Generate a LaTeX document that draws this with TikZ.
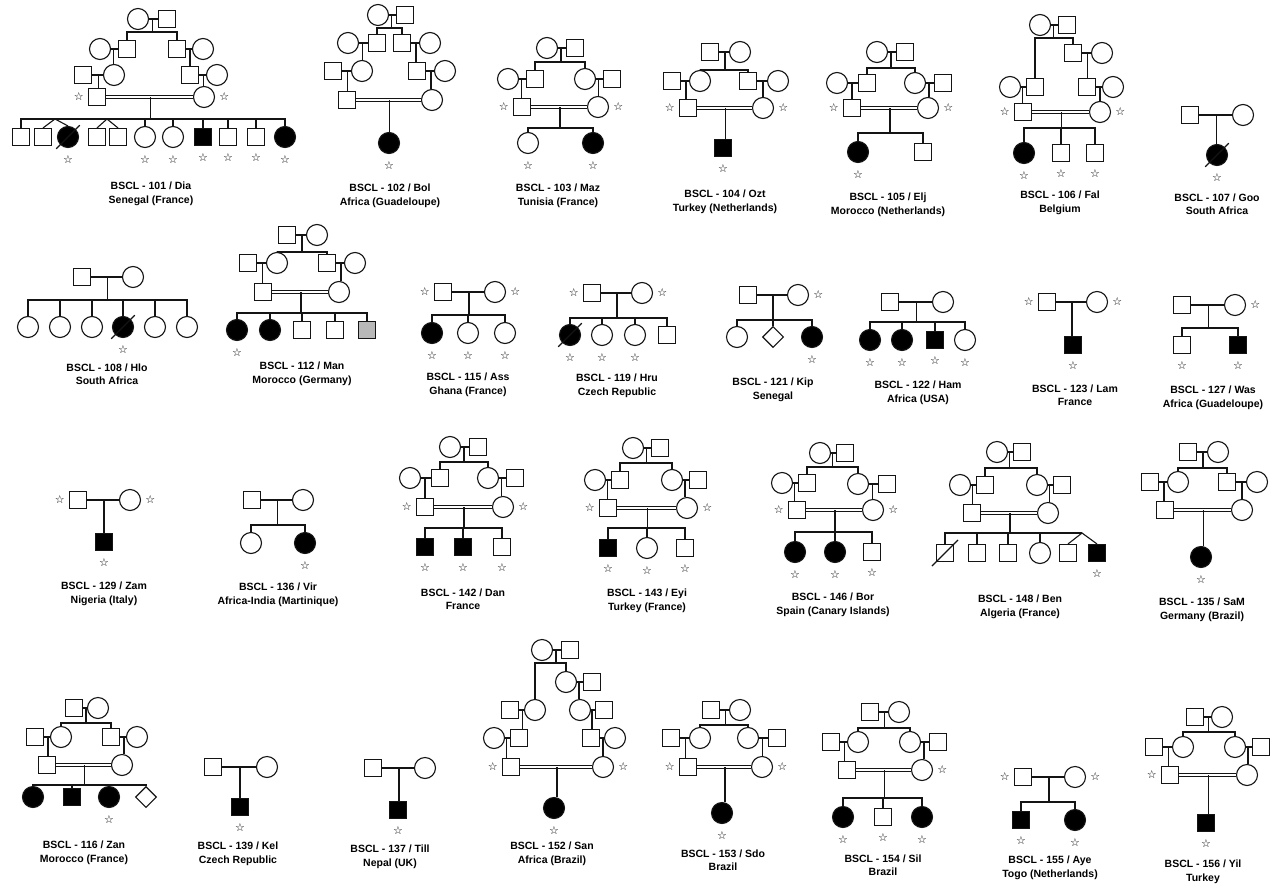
\documentclass[tikz,border=0pt]{standalone}
\usepackage{fontspec}
\setmainfont{Liberation Sans}
\newfontfamily\starfont{DejaVu Sans}
\usetikzlibrary{calc,shapes.geometric}
\definecolor{pedline}{RGB}{20,20,20}
\newcommand\stsym{{\starfont\fontsize{11}{11}\selectfont ☆}}
\tikzset{
  ind/.style={draw=pedline, line width=1.1pt, inner sep=0pt, fill=white},
  male/.style={ind, rectangle, minimum size=17pt},
  fem/.style={ind, circle, minimum size=21pt},
  unk/.style={ind, diamond, minimum size=21pt},
  aff/.style={fill=black},
  gry/.style={fill=black!28},
  rel/.style={draw=pedline, line width=1.1pt},
  cons/.style={draw=pedline, line width=0.9pt, double, double distance=2.2pt},
  starlab/.style={inner sep=0pt},
  stb/.style={label={[starlab,label distance=7pt]below:\stsym}},
  stl/.style={label={[starlab,label distance=4pt]left:\stsym}},
  str/.style={label={[starlab,label distance=4pt]right:\stsym}},
  pedlab/.style={align=center, font=\fontsize{10.5}{13.5}\selectfont\bfseries}
}
% descent from a couple to a sibship line at height #3
\newcommand\kids[4]{%
  \coordinate (mid) at ($(#1)!.5!(#2)$);
  \foreach \k in {#4}{\draw[rel] (mid) -- (mid |- 0,#3) -| (\k.north);}%
}
\newcommand\onekid[3]{%
  \coordinate (mid) at ($(#1)!.5!(#2)$);
  \draw[rel] (mid) -- (mid |- #3.north);%
}
\newcommand\dead[1]{\draw[rel] ($(#1.south west)+(-4,4)$) -- ($(#1.north east)+(4,-4)$);}

\begin{document}
\begin{tikzpicture}[x=1pt, y=-1pt]
\useasboundingbox[fill=white] (0,0) rectangle (1276,891);

% ---- 101 Dia
\node[fem] (diaT1) at (138,19) {};
\node[male] (diaT2) at (167,19) {};
\node[fem] (diaL1) at (100,49) {};
\node[male] (diaL2) at (127,49) {};
\node[male] (diaR1) at (177,49) {};
\node[fem] (diaR2) at (203,49) {};
\node[male] (diaL3) at (83,75) {};
\node[fem] (diaL4) at (114,75) {};
\node[male] (diaR3) at (190,75) {};
\node[fem] (diaR4) at (217,75) {};
\node[male,stl] (diaF) at (97,97) {};
\node[fem,str] (diaM) at (204,97) {};
\node[male] (diaC1) at (21,137) {};
\node[male] (diaC2) at (43,137) {};
\node[fem,aff,stb] (diaC3) at (68,137) {};
\node[male] (diaC4) at (97,137) {};
\node[male] (diaC5) at (118,137) {};
\node[fem,stb] (diaC6) at (145,137) {};
\node[fem,stb] (diaC7) at (173,137) {};
\node[male,aff,stb] (diaC8) at (203,137) {};
\node[male,stb] (diaC9) at (228,137) {};
\node[male,stb] (diaC10) at (256,137) {};
\node[fem,aff,stb] (diaC11) at (285,137) {};
\draw[rel] (diaT1) -- (diaT2);
\kids{diaT1}{diaT2}{32}{diaL2,diaR1}
\draw[rel] (diaL1) -- (diaL2);
\draw[rel] (diaR1) -- (diaR2);
\onekid{diaL1}{diaL2}{diaL4}
\onekid{diaR1}{diaR2}{diaR3}
\draw[rel] (diaL3) -- (diaL4);
\draw[rel] (diaR3) -- (diaR4);
\onekid{diaL3}{diaL4}{diaF}
\onekid{diaR3}{diaR4}{diaM}
\draw[cons] (diaF) -- (diaM);
\kids{diaF}{diaM}{119}{diaC1,diaC6,diaC7,diaC8,diaC9,diaC10,diaC11}
\coordinate (diaTw1) at (55,119);
\coordinate (diaTw2) at (107,119);
\draw[rel] (diaC2.north) -- (diaTw1) -- (diaC3.north);
\draw[rel] (diaC4.north) -- (diaTw2) -- (diaC5.north);
\dead{diaC3}
\node[pedlab] (diaLab) at (151,194) {BSCL - 101 / Dia\\Senegal (France)};

% ---- 102 Bol
\node[fem] (bolT1) at (378,15) {};
\node[male] (bolT2) at (405,15) {};
\node[fem] (bolL1) at (348,43) {};
\node[male] (bolL2) at (377,43) {};
\node[male] (bolR1) at (402,43) {};
\node[fem] (bolR2) at (430,43) {};
\node[male] (bolL3) at (333,71) {};
\node[fem] (bolL4) at (362,71) {};
\node[male] (bolR3) at (417,71) {};
\node[fem] (bolR4) at (445,71) {};
\node[male] (bolF) at (347,100) {};
\node[fem] (bolM) at (432,100) {};
\node[fem,aff,stb] (bolC1) at (389,143) {};
\draw[rel] (bolT1) -- (bolT2);
\kids{bolT1}{bolT2}{28}{bolL2,bolR1}
\draw[rel] (bolL1) -- (bolL2);
\draw[rel] (bolR1) -- (bolR2);
\onekid{bolL1}{bolL2}{bolL4}
\onekid{bolR1}{bolR2}{bolR3}
\draw[rel] (bolL3) -- (bolL4);
\draw[rel] (bolR3) -- (bolR4);
\onekid{bolL3}{bolL4}{bolF}
\onekid{bolR3}{bolR4}{bolM}
\draw[cons] (bolF) -- (bolM);
\onekid{bolF}{bolM}{bolC1}
\node[pedlab] (bolLab) at (390,196) {BSCL - 102 / Bol\\Africa (Guadeloupe)};

% ---- 103 Maz
\node[fem] (mazT1) at (547,48) {};
\node[male] (mazT2) at (575,48) {};
\node[fem] (mazL1) at (508,79) {};
\node[male] (mazL2) at (535,79) {};
\node[fem] (mazR1) at (585,79) {};
\node[male] (mazR2) at (612,79) {};
\node[male,stl] (mazF) at (522,107) {};
\node[fem,str] (mazM) at (598,107) {};
\node[fem,stb] (mazC1) at (528,143) {};
\node[fem,aff,stb] (mazC2) at (593,143) {};
\draw[rel] (mazT1) -- (mazT2);
\kids{mazT1}{mazT2}{62}{mazL2,mazR1}
\draw[rel] (mazL1) -- (mazL2);
\draw[rel] (mazR1) -- (mazR2);
\onekid{mazL1}{mazL2}{mazF}
\onekid{mazR1}{mazR2}{mazM}
\draw[cons] (mazF) -- (mazM);
\kids{mazF}{mazM}{128}{mazC1,mazC2}
\node[pedlab] (mazLab) at (558,196) {BSCL - 103 / Maz\\Tunisia (France)};

% ---- 104 Ozt
\node[male] (oztT1) at (710,52) {};
\node[fem] (oztT2) at (740,52) {};
\node[male] (oztL1) at (672,81) {};
\node[fem] (oztL2) at (700,81) {};
\node[male] (oztR1) at (748,81) {};
\node[fem] (oztR2) at (778,81) {};
\node[male,stl] (oztF) at (688,108) {};
\node[fem,str] (oztM) at (763,108) {};
\node[male,aff,stb] (oztC1) at (723,148) {};
\draw[rel] (oztT1) -- (oztT2);
\kids{oztT1}{oztT2}{70}{oztL2,oztR1}
\draw[rel] (oztL1) -- (oztL2);
\draw[rel] (oztR1) -- (oztR2);
\onekid{oztL1}{oztL2}{oztF}
\onekid{oztR1}{oztR2}{oztM}
\draw[cons] (oztF) -- (oztM);
\onekid{oztF}{oztM}{oztC1}
\node[pedlab] (oztLab) at (725,202) {BSCL - 104 / Ozt\\Turkey (Netherlands)};

% ---- 105 Elj
\node[fem] (eljT1) at (877,52) {};
\node[male] (eljT2) at (905,52) {};
\node[fem] (eljL1) at (837,83) {};
\node[male] (eljL2) at (867,83) {};
\node[fem] (eljR1) at (915,83) {};
\node[male] (eljR2) at (943,83) {};
\node[male,stl] (eljF) at (852,108) {};
\node[fem,str] (eljM) at (928,108) {};
\node[fem,aff,stb] (eljC1) at (858,152) {};
\node[male] (eljC2) at (923,152) {};
\draw[rel] (eljT1) -- (eljT2);
\kids{eljT1}{eljT2}{68}{eljL2,eljR1}
\draw[rel] (eljL1) -- (eljL2);
\draw[rel] (eljR1) -- (eljR2);
\onekid{eljL1}{eljL2}{eljF}
\onekid{eljR1}{eljR2}{eljM}
\draw[cons] (eljF) -- (eljM);
\kids{eljF}{eljM}{133}{eljC1,eljC2}
\node[pedlab] (eljLab) at (888,205) {BSCL - 105 / Elj\\Morocco (Netherlands)};

% ---- 106 Fal
\node[fem] (falT1) at (1040,25) {};
\node[male] (falT2) at (1067,25) {};
\node[male] (falR1) at (1073,53) {};
\node[fem] (falR2) at (1102,53) {};
\node[fem] (falL1) at (1010,87) {};
\node[male] (falL2) at (1035,87) {};
\node[male] (falR3) at (1087,87) {};
\node[fem] (falR4) at (1113,87) {};
\node[male,stl] (falF) at (1023,112) {};
\node[fem,str] (falM) at (1100,112) {};
\node[fem,aff,stb] (falC1) at (1024,153) {};
\node[male,stb] (falC2) at (1061,153) {};
\node[male,stb] (falC3) at (1095,153) {};
\draw[rel] (falT1) -- (falT2);
\kids{falT1}{falT2}{38}{falL2,falR1}
\draw[rel] (falR1) -- (falR2);
\onekid{falR1}{falR2}{falR3}
\draw[rel] (falL1) -- (falL2);
\draw[rel] (falR3) -- (falR4);
\onekid{falL1}{falL2}{falF}
\onekid{falR3}{falR4}{falM}
\draw[cons] (falF) -- (falM);
\kids{falF}{falM}{128}{falC1,falC2,falC3}
\node[pedlab] (falLab) at (1060,203) {BSCL - 106 / Fal\\Belgium};

% ---- 107 Goo
\node[male] (gooF) at (1190,115) {};
\node[fem] (gooM) at (1243,115) {};
\node[fem,aff,stb] (gooC1) at (1217,155) {};
\draw[rel] (gooF) -- (gooM);
\onekid{gooF}{gooM}{gooC1}
\dead{gooC1}
\node[pedlab] (gooLab) at (1217,204) {BSCL - 107 / Goo\\South Africa};

% ---- 108 Hlo
\node[male] (hloF) at (82,277) {};
\node[fem] (hloM) at (133,277) {};
\node[fem] (hloC1) at (28,327) {};
\node[fem] (hloC2) at (60,327) {};
\node[fem] (hloC3) at (92,327) {};
\node[fem,aff,stb] (hloC4) at (123,327) {};
\node[fem] (hloC5) at (155,327) {};
\node[fem] (hloC6) at (187,327) {};
\draw[rel] (hloF) -- (hloM);
\kids{hloF}{hloM}{300}{hloC1,hloC2,hloC3,hloC4,hloC5,hloC6}
\dead{hloC4}
\node[pedlab] (hloLab) at (107,374) {BSCL - 108 / Hlo\\South Africa};

% ---- 112 Man
\node[male] (manT1) at (287,235) {};
\node[fem] (manT2) at (317,235) {};
\node[male] (manL1) at (248,263) {};
\node[fem] (manL2) at (277,263) {};
\node[male] (manR1) at (327,263) {};
\node[fem] (manR2) at (355,263) {};
\node[male] (manF) at (263,292) {};
\node[fem] (manM) at (339,292) {};
\node[fem,aff,stb] (manC1) at (237,330) {};
\node[fem,aff] (manC2) at (270,330) {};
\node[male] (manC3) at (302,330) {};
\node[male] (manC4) at (335,330) {};
\node[male,gry] (manC5) at (367,330) {};
\draw[rel] (manT1) -- (manT2);
\kids{manT1}{manT2}{252}{manL2,manR1}
\draw[rel] (manL1) -- (manL2);
\draw[rel] (manR1) -- (manR2);
\onekid{manL1}{manL2}{manF}
\onekid{manR1}{manR2}{manM}
\draw[cons] (manF) -- (manM);
\kids{manF}{manM}{313}{manC1,manC2,manC3,manC4,manC5}
\node[pedlab] (manLab) at (302,374) {BSCL - 112 / Man\\Morocco (Germany)};

% ---- 115 Ass
\node[male,stl] (assF) at (443,292) {};
\node[fem,str] (assM) at (495,292) {};
\node[fem,aff,stb] (assC1) at (432,333) {};
\node[fem,stb] (assC2) at (468,333) {};
\node[fem,stb] (assC3) at (505,333) {};
\draw[rel] (assF) -- (assM);
\kids{assF}{assM}{315}{assC1,assC2,assC3}
\node[pedlab] (assLab) at (468,385) {BSCL - 115 / Ass\\Ghana (France)};

% ---- 119 Hru
\node[male,stl] (hruF) at (592,293) {};
\node[fem,str] (hruM) at (642,293) {};
\node[fem,aff,stb] (hruC1) at (570,335) {};
\node[fem,stb] (hruC2) at (602,335) {};
\node[fem,stb] (hruC3) at (635,335) {};
\node[male] (hruC4) at (667,335) {};
\draw[rel] (hruF) -- (hruM);
\kids{hruF}{hruM}{318}{hruC1,hruC2,hruC3,hruC4}
\dead{hruC1}
\node[pedlab] (hruLab) at (617,386) {BSCL - 119 / Hru\\Czech Republic};

% ---- 121 Kip
\node[male] (kipF) at (748,295) {};
\node[fem,str] (kipM) at (798,295) {};
\node[fem] (kipC1) at (737,337) {};
\node[unk] (kipC2) at (773,337) {};
\node[fem,aff,stb] (kipC3) at (812,337) {};
\draw[rel] (kipF) -- (kipM);
\kids{kipF}{kipM}{320}{kipC1,kipC2,kipC3}
\node[pedlab] (kipLab) at (773,390) {BSCL - 121 / Kip\\Senegal};

% ---- 122 Ham
\node[male] (hamF) at (890,302) {};
\node[fem] (hamM) at (943,302) {};
\node[fem,aff,stb] (hamC1) at (870,340) {};
\node[fem,aff,stb] (hamC2) at (902,340) {};
\node[male,aff,stb] (hamC3) at (935,340) {};
\node[fem,stb] (hamC4) at (965,340) {};
\draw[rel] (hamF) -- (hamM);
\kids{hamF}{hamM}{322}{hamC1,hamC2,hamC3,hamC4}
\node[pedlab] (hamLab) at (918,393) {BSCL - 122 / Ham\\Africa (USA)};

% ---- 123 Lam
\node[male,stl] (lamF) at (1047,302) {};
\node[fem,str] (lamM) at (1097,302) {};
\node[male,aff,stb] (lamC1) at (1073,345) {};
\draw[rel] (lamF) -- (lamM);
\onekid{lamF}{lamM}{lamC1}
\node[pedlab] (lamLab) at (1075,395) {BSCL - 123 / Lam\\France};

% ---- 127 Was
\node[male] (wasF) at (1182,305) {};
\node[fem,str] (wasM) at (1235,305) {};
\node[male,stb] (wasC1) at (1182,345) {};
\node[male,aff,stb] (wasC2) at (1238,345) {};
\draw[rel] (wasF) -- (wasM);
\kids{wasF}{wasM}{328}{wasC1,wasC2}
\node[pedlab] (wasLab) at (1213,398) {BSCL - 127 / Was\\Africa (Guadeloupe)};

% ---- 129 Zam
\node[male,stl] (zamF) at (78,500) {};
\node[fem,str] (zamM) at (130,500) {};
\node[male,aff,stb] (zamC1) at (104,542) {};
\draw[rel] (zamF) -- (zamM);
\onekid{zamF}{zamM}{zamC1}
\node[pedlab] (zamLab) at (104,594) {BSCL - 129 / Zam\\Nigeria (Italy)};

% ---- 136 Vir
\node[male] (virF) at (252,500) {};
\node[fem] (virM) at (303,500) {};
\node[fem] (virC1) at (251,543) {};
\node[fem,aff,stb] (virC2) at (305,543) {};
\draw[rel] (virF) -- (virM);
\kids{virF}{virM}{525}{virC1,virC2}
\node[pedlab] (virLab) at (278,595) {BSCL - 136 / Vir\\Africa-India (Martinique)};

% ---- 142 Dan
\node[fem] (danT1) at (450,447) {};
\node[male] (danT2) at (478,447) {};
\node[fem] (danL1) at (410,478) {};
\node[male] (danL2) at (440,478) {};
\node[fem] (danR1) at (488,478) {};
\node[male] (danR2) at (515,478) {};
\node[male,stl] (danF) at (425,507) {};
\node[fem,str] (danM) at (503,507) {};
\node[male,aff,stb] (danC1) at (425,547) {};
\node[male,aff,stb] (danC2) at (463,547) {};
\node[male,stb] (danC3) at (502,547) {};
\draw[rel] (danT1) -- (danT2);
\kids{danT1}{danT2}{462}{danL2,danR1}
\draw[rel] (danL1) -- (danL2);
\draw[rel] (danR1) -- (danR2);
\onekid{danL1}{danL2}{danF}
\onekid{danR1}{danR2}{danM}
\draw[cons] (danF) -- (danM);
\kids{danF}{danM}{528}{danC1,danC2,danC3}
\node[pedlab] (danLab) at (463,599) {BSCL - 142 / Dan\\France};

% ---- 143 Eyi
\node[fem] (eyiT1) at (633,448) {};
\node[male] (eyiT2) at (660,448) {};
\node[fem] (eyiL1) at (595,480) {};
\node[male] (eyiL2) at (620,480) {};
\node[fem] (eyiR1) at (672,480) {};
\node[male] (eyiR2) at (698,480) {};
\node[male,stl] (eyiF) at (608,508) {};
\node[fem,str] (eyiM) at (687,508) {};
\node[male,aff,stb] (eyiC1) at (608,548) {};
\node[fem,stb] (eyiC2) at (647,548) {};
\node[male,stb] (eyiC3) at (685,548) {};
\draw[rel] (eyiT1) -- (eyiT2);
\kids{eyiT1}{eyiT2}{463}{eyiL2,eyiR1}
\draw[rel] (eyiL1) -- (eyiL2);
\draw[rel] (eyiR1) -- (eyiR2);
\onekid{eyiL1}{eyiL2}{eyiF}
\onekid{eyiR1}{eyiR2}{eyiM}
\draw[cons] (eyiF) -- (eyiM);
\kids{eyiF}{eyiM}{528}{eyiC1,eyiC2,eyiC3}
\node[pedlab] (eyiLab) at (647,601) {BSCL - 143 / Eyi\\Turkey (France)};

% ---- 146 Bor
\node[fem] (borT1) at (820,453) {};
\node[male] (borT2) at (845,453) {};
\node[fem] (borL1) at (782,483) {};
\node[male] (borL2) at (807,483) {};
\node[fem] (borR1) at (858,484) {};
\node[male] (borR2) at (887,484) {};
\node[male,stl] (borF) at (797,510) {};
\node[fem,str] (borM) at (873,510) {};
\node[fem,aff,stb] (borC1) at (795,552) {};
\node[fem,aff,stb] (borC2) at (835,552) {};
\node[male,stb] (borC3) at (872,552) {};
\draw[rel] (borT1) -- (borT2);
\kids{borT1}{borT2}{467}{borL2,borR1}
\draw[rel] (borL1) -- (borL2);
\draw[rel] (borR1) -- (borR2);
\onekid{borL1}{borL2}{borF}
\onekid{borR1}{borR2}{borM}
\draw[cons] (borF) -- (borM);
\kids{borF}{borM}{532}{borC1,borC2,borC3}
\node[pedlab] (borLab) at (833,605) {BSCL - 146 / Bor\\Spain (Canary Islands)};

% ---- 148 Ben
\node[fem] (benT1) at (997,452) {};
\node[male] (benT2) at (1022,452) {};
\node[fem] (benL1) at (960,485) {};
\node[male] (benL2) at (985,485) {};
\node[fem] (benR1) at (1037,485) {};
\node[male] (benR2) at (1062,485) {};
\node[male] (benF) at (972,513) {};
\node[fem] (benM) at (1048,513) {};
\node[male] (benC1) at (945,553) {};
\node[male] (benC2) at (977,553) {};
\node[male] (benC3) at (1008,553) {};
\node[fem] (benC4) at (1040,553) {};
\node[male] (benC5) at (1068,553) {};
\node[male,aff,stb] (benC6) at (1097,553) {};
\draw[rel] (benT1) -- (benT2);
\kids{benT1}{benT2}{468}{benL2,benR1}
\draw[rel] (benL1) -- (benL2);
\draw[rel] (benR1) -- (benR2);
\onekid{benL1}{benL2}{benF}
\onekid{benR1}{benR2}{benM}
\draw[cons] (benF) -- (benM);
\kids{benF}{benM}{533}{benC1,benC2,benC3,benC4}
\coordinate (benTw) at (1082,533);
\draw[rel] (mid |- benTw) -- (benTw);
\draw[rel] (benC5.north) -- (benTw) -- (benC6.north);
\dead{benC1}
\node[pedlab] (benLab) at (1020,607) {BSCL - 148 / Ben\\Algeria (France)};

% ---- 135 SaM
\node[male] (samT1) at (1188,452) {};
\node[fem] (samT2) at (1218,452) {};
\node[male] (samL1) at (1150,482) {};
\node[fem] (samL2) at (1178,482) {};
\node[male] (samR1) at (1227,482) {};
\node[fem] (samR2) at (1257,482) {};
\node[male] (samF) at (1165,510) {};
\node[fem] (samM) at (1242,510) {};
\node[fem,aff,stb] (samC1) at (1201,557) {};
\draw[rel] (samT1) -- (samT2);
\kids{samT1}{samT2}{468}{samL2,samR1}
\draw[rel] (samL1) -- (samL2);
\draw[rel] (samR1) -- (samR2);
\onekid{samL1}{samL2}{samF}
\onekid{samR1}{samR2}{samM}
\draw[cons] (samF) -- (samM);
\onekid{samF}{samM}{samC1}
\node[pedlab] (samLab) at (1202,610) {BSCL - 135 / SaM\\Germany (Brazil)};

% ---- 116 Zan
\node[male] (zanT1) at (74,708) {};
\node[fem] (zanT2) at (98,708) {};
\node[male] (zanL1) at (35,737) {};
\node[fem] (zanL2) at (61,737) {};
\node[male] (zanR1) at (111,737) {};
\node[fem] (zanR2) at (137,737) {};
\node[male] (zanF) at (47,765) {};
\node[fem] (zanM) at (122,765) {};
\node[fem,aff] (zanC1) at (33,797) {};
\node[male,aff] (zanC2) at (72,797) {};
\node[fem,aff,stb] (zanC3) at (109,797) {};
\node[unk] (zanC4) at (146,797) {};
\draw[rel] (zanT1) -- (zanT2);
\kids{zanT1}{zanT2}{723}{zanL2,zanR1}
\draw[rel] (zanL1) -- (zanL2);
\draw[rel] (zanR1) -- (zanR2);
\onekid{zanL1}{zanL2}{zanF}
\onekid{zanR1}{zanR2}{zanM}
\draw[cons] (zanF) -- (zanM);
\kids{zanF}{zanM}{785}{zanC1,zanC2,zanC3,zanC4}
\node[pedlab] (zanLab) at (84,853) {BSCL - 116 / Zan\\Morocco (France)};

% ---- 139 Kel
\node[male] (kelF) at (213,767) {};
\node[fem] (kelM) at (267,767) {};
\node[male,aff,stb] (kelC1) at (240,807) {};
\draw[rel] (kelF) -- (kelM);
\onekid{kelF}{kelM}{kelC1}
\node[pedlab] (kelLab) at (238,854) {BSCL - 139 / Kel\\Czech Republic};

% ---- 137 Till
\node[male] (tilF) at (373,768) {};
\node[fem] (tilM) at (425,768) {};
\node[male,aff,stb] (tilC1) at (398,810) {};
\draw[rel] (tilF) -- (tilM);
\onekid{tilF}{tilM}{tilC1}
\node[pedlab] (tilLab) at (390,857) {BSCL - 137 / Till\\Nepal (UK)};

% ---- 152 San
\node[fem] (sanT1) at (542,650) {};
\node[male] (sanT2) at (570,650) {};
\node[fem] (sanB1) at (566,682) {};
\node[male] (sanB2) at (592,682) {};
\node[male] (sanA1) at (510,710) {};
\node[fem] (sanA2) at (535,710) {};
\node[fem] (sanC1) at (580,710) {};
\node[male] (sanC2) at (604,710) {};
\node[fem] (sanD1) at (494,738) {};
\node[male] (sanD2) at (519,738) {};
\node[male] (sanE1) at (591,738) {};
\node[fem] (sanE2) at (615,738) {};
\node[male,stl] (sanF) at (511,767) {};
\node[fem,str] (sanM) at (603,767) {};
\node[fem,aff,stb] (sanP) at (554,808) {};
\draw[rel] (sanT1) -- (sanT2);
\kids{sanT1}{sanT2}{663}{sanA2,sanB1}
\draw[rel] (sanB1) -- (sanB2);
\onekid{sanB1}{sanB2}{sanC1}
\draw[rel] (sanA1) -- (sanA2);
\onekid{sanA1}{sanA2}{sanD2}
\draw[rel] (sanC1) -- (sanC2);
\onekid{sanC1}{sanC2}{sanE1}
\draw[rel] (sanD1) -- (sanD2);
\onekid{sanD1}{sanD2}{sanF}
\draw[rel] (sanE1) -- (sanE2);
\onekid{sanE1}{sanE2}{sanM}
\draw[cons] (sanF) -- (sanM);
\onekid{sanF}{sanM}{sanP}
\node[pedlab] (sanLab) at (552,854) {BSCL - 152 / San\\Africa (Brazil)};

% ---- 153 Sdo
\node[male] (sdoT1) at (711,710) {};
\node[fem] (sdoT2) at (740,710) {};
\node[male] (sdoL1) at (671,738) {};
\node[fem] (sdoL2) at (700,738) {};
\node[fem] (sdoR1) at (748,738) {};
\node[male] (sdoR2) at (777,738) {};
\node[male,stl] (sdoF) at (688,767) {};
\node[fem,str] (sdoM) at (762,767) {};
\node[fem,aff,stb] (sdoC1) at (722,813) {};
\draw[rel] (sdoT1) -- (sdoT2);
\kids{sdoT1}{sdoT2}{725}{sdoL2,sdoR1}
\draw[rel] (sdoL1) -- (sdoL2);
\draw[rel] (sdoR1) -- (sdoR2);
\onekid{sdoL1}{sdoL2}{sdoF}
\onekid{sdoR1}{sdoR2}{sdoM}
\draw[cons] (sdoF) -- (sdoM);
\onekid{sdoF}{sdoM}{sdoC1}
\node[pedlab] (sdoLab) at (723,860) {BSCL - 153 / Sdo\\Brazil};

% ---- 154 Sil
\node[male] (silT1) at (870,712) {};
\node[fem] (silT2) at (899,712) {};
\node[male] (silL1) at (831,742) {};
\node[fem] (silL2) at (858,742) {};
\node[fem] (silR1) at (910,742) {};
\node[male] (silR2) at (938,742) {};
\node[male] (silF) at (847,770) {};
\node[fem,str] (silM) at (922,770) {};
\node[fem,aff,stb] (silC1) at (843,817) {};
\node[male,stb] (silC2) at (883,817) {};
\node[fem,aff,stb] (silC3) at (922,817) {};
\draw[rel] (silT1) -- (silT2);
\kids{silT1}{silT2}{728}{silL2,silR1}
\draw[rel] (silL1) -- (silL2);
\draw[rel] (silR1) -- (silR2);
\onekid{silL1}{silL2}{silF}
\onekid{silR1}{silR2}{silM}
\draw[cons] (silF) -- (silM);
\kids{silF}{silM}{798}{silC1,silC2,silC3}
\node[pedlab] (silLab) at (883,865) {BSCL - 154 / Sil\\Brazil};

% ---- 155 Aye
\node[male,stl] (ayeF) at (1023,777) {};
\node[fem,str] (ayeM) at (1075,777) {};
\node[male,aff,stb] (ayeC1) at (1021,820) {};
\node[fem,aff,stb] (ayeC2) at (1075,820) {};
\draw[rel] (ayeF) -- (ayeM);
\kids{ayeF}{ayeM}{802}{ayeC1,ayeC2}
\node[pedlab] (ayeLab) at (1050,868) {BSCL - 155 / Aye\\Togo (Netherlands)};

% ---- 156 Yil
\node[male] (yilT1) at (1195,717) {};
\node[fem] (yilT2) at (1222,717) {};
\node[male] (yilL1) at (1154,747) {};
\node[fem] (yilL2) at (1183,747) {};
\node[fem] (yilR1) at (1235,747) {};
\node[male] (yilR2) at (1261,747) {};
\node[male,stl] (yilF) at (1170,775) {};
\node[fem] (yilM) at (1247,775) {};
\node[male,aff,stb] (yilC1) at (1206,823) {};
\draw[rel] (yilT1) -- (yilT2);
\kids{yilT1}{yilT2}{732}{yilL2,yilR1}
\draw[rel] (yilL1) -- (yilL2);
\draw[rel] (yilR1) -- (yilR2);
\onekid{yilL1}{yilL2}{yilF}
\onekid{yilR1}{yilR2}{yilM}
\draw[cons] (yilF) -- (yilM);
\onekid{yilF}{yilM}{yilC1}
\node[pedlab] (yilLab) at (1203,872) {BSCL - 156 / Yil\\Turkey};
\end{tikzpicture}
\end{document}
